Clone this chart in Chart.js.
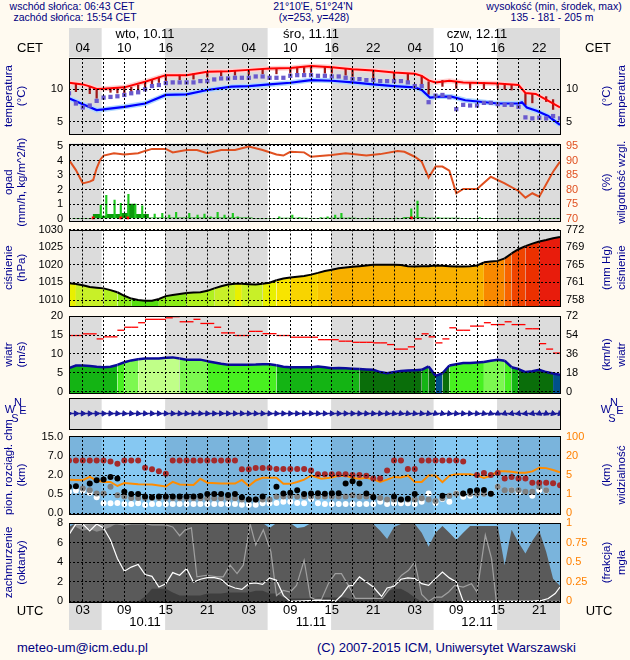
<!DOCTYPE html>
<html lang="pl"><head><meta charset="utf-8"><title>meteogram</title>
<script src="https://cdn.jsdelivr.net/npm/chart.js@4.4.1/dist/chart.umd.min.js"></script>
<style>
html,body{margin:0;padding:0;background:#fffaf0;}
#wrap{position:relative;width:630px;height:660px;overflow:hidden;font-family:"Liberation Sans",Arial,sans-serif;color:#000080;}
#wrap canvas{position:absolute;left:0;top:0;}
.tx{position:absolute;white-space:nowrap;line-height:1;}
</style></head><body>
<div id="wrap">
<div class="tx" style="left:0;width:144px;text-align:center;top:1px;font-size:10.5px">wschód słońca: 06:43 CET</div>
<div class="tx" style="left:0;width:150px;text-align:center;top:12px;font-size:10.5px">zachód słońca: 15:54 CET</div>
<div class="tx" style="left:163px;width:300px;text-align:center;top:1px;font-size:10.5px">21°10'E, 51°24'N</div>
<div class="tx" style="left:164px;width:300px;text-align:center;top:12px;font-size:10.5px">(x=253, y=428)</div>
<div class="tx" style="left:454px;width:200px;text-align:center;top:1px;font-size:10.5px">wysokość (min, środek, max)</div>
<div class="tx" style="left:452px;width:200px;text-align:center;top:12px;font-size:10.5px">135 - 181 - 205 m</div>
<div class="tx" style="left:17px;top:641px;font-size:13px">meteo-um@icm.edu.pl</div>
<div class="tx" style="left:317px;top:641px;font-size:13px">(C) 2007-2015 ICM, Uniwersytet Warszawski</div>
</div>
<script>
// ================= DATA =================
// time axis (hours since 01 UTC 10.11)
const gridHours = [2,5,8,11,14,17,20,23,26,29,32,35,38,41,44,47,50,53,56,59,62,65,68];
const labelHours = [2,8,14,20,26,32,38,44,50,56,62,68];
const cetLabels = ['04','10','16','22','04','10','16','22','04','10','16','22'];
const utcLabels = ['03','09','15','21','03','09','15','21','03','09','15','21'];
const dayHours = [11,35,59];
const cetDays = ['wto, 10.11','śro, 11.11','czw, 12.11'];
const utcDays = ['10.11','11.11','12.11'];
const nightStart = [0, 13.9, 37.9, 61.9];
const nightEnd = [4.72, 28.72, 52.72, 71];
const hours = Array.from({length:72}, (_, i) => i);

// temperature
const tempHours = [0,2,3,4,5,8,11,14,17,20,23,26,29,32,35,38,41,44,47,50,51,52,53,55,57,62,65,66,67.5,69,71];
const tempValues = [10.95,10.7,10.4,10.0,10.05,10.25,11.1,12.1,12.1,12.6,12.7,12.9,13.1,13.2,13.5,13.3,13.0,12.8,12.5,12.3,12.0,11.3,11.0,11.25,11.0,10.85,10.6,9.4,9.25,8.4,7.2];
const dewHours = [0,2,4,5,8,11,14,17,20,23.5,26,29,32,35,38,41,44,47,50,51,52.2,53.7,55.3,57.3,62,65,65.5,66.2,67.6,69.3,71];
const dewValues = [8.6,7.7,6.8,6.9,7.3,7.8,9.1,9.2,9.85,10.35,10.45,10.7,10.95,11.35,11.25,11.0,10.7,10.45,10.25,9.85,8.7,8.85,8.85,8.3,7.8,7.8,8.0,7.2,6.7,5.9,4.55];
const feelValues = [9.35,7.8,7.2,7.5,8.2,8.7,8.8,8.9,9.1,9.35,9.5,9.95,10.45,10.6,10.9,11.0,11.0,11.0,11.0,11.2,11.2,11.45,11.6,11.6,11.7,11.7,11.7,11.9,11.9,11.7,11.7,11.7,12.0,12.1,12.1,12.1,
  12.0,12.0,11.9,11.9,11.7,11.5,11.5,11.35,11.35,11.2,11.2,11.2,11.2,11.0,10.45,10.45,8.0,9.0,9.1,8.75,6.95,7.6,7.5,7.5,7.9,7.9,7.7,7.6,7.6,7.3,5.7,5.55,5.65,5.55,5.9,5.55];
const spreadHours = [1,3,4,6,7,8,9,10,11,12,13,14,16,18,20,22,24,26,28,30,32,33,34,35,37,38,40,41,44,47,49,51,52,54,56,58,60,62,63,64,66,67,69,70];
const spreadTop = [10.8,10.4,10.0,10.1,10.1,10.25,10.3,10.6,11.1,11.4,11.8,12.1,12.1,12.3,12.6,12.7,12.8,12.9,13.0,13.1,13.2,13.3,13.3,13.5,13.4,13.3,13.0,12.9,12.8,12.5,12.3,12.0,11.1,11.3,11.1,11.0,11.0,10.85,10.85,10.7,9.3,9.3,8.85,8.4];
const spreadBottom = [9.6,9.3,8.6,9.5,9.4,8.9,9.3,9.6,10.2,10.6,11.0,11.2,11.4,11.5,11.8,12.0,12.1,12.2,12.3,12.3,12.4,12.4,12.5,12.5,12.4,12.4,12.1,11.9,11.7,11.4,11.2,10.6,9.2,10.4,10.1,10.1,10.0,10.1,9.95,9.85,7.6,7.9,8.1,6.9];

// precipitation & humidity
const precipMean = [0,0,0,0.29,0.17,0.29,0.29,0.36,1.0,0.29,0.29,
  0.05,0.05,0.05,0.05,0.05,0.05,0.05,0.05,0.05,0.05,0.05,0.05,0.05,0.05,0.05,
  0,0,0,0,0.03,0.03,0.03,0.03,0,0,0.03,0.03,0.03,0.03,0.03,
  0,0,0,0,0,0,0,0.06,0.06,0.06,0.02,0.02,0.02,0.02,0.02,
  0,0,0,0,0,0,0,0,0,0,0,0,0,0,0,0];
const precipMaxHours = [4.7,5.5,6.7,7.6,8.7,9.7,10.7,12.5,13.6,14.6,15.6,17.5,18.7,19.7,20.6,21.6,22.6,23.8,24.5,30.5,32.4,33.4,36.5,37.5,38.6,39.5,40.6,43.4,47.5,48.5,49.6,50.5,53.5,59.5];
const precipMaxValues = [0.93,1.6,1.28,1.05,1.67,1.0,0.88,0.31,0.36,0.24,0.43,0.36,0.24,0.31,0.12,0.43,0.24,0.36,0.12,0.12,0.24,0.06,0.06,0.12,0.24,0.36,0.03,0.03,0.03,0.06,0.66,1.2,0.06,0.06];
const precipRedHours = [3.5,7.5,8.5,49.5];
const humHours = [0,1,1.5,2,3,3.5,4,4.5,5,6.5,8,10,11,12,14,15,17,18.5,20,22,24,26,28,30,31,32,34,35,38,40,43,45,47.5,48.5,50,51,52,53,54,55,56,57,59,61,63,65,66,67,68,70,71];
const humValues = [90.2,86.7,84.4,82.1,82.7,83.3,87.3,90.2,91.7,92.5,92.1,92.5,93.3,94.0,94.0,92.8,93.6,93.6,92.5,93.6,93.6,94.8,93.6,92.1,91.7,93.0,92.8,91.3,91.9,92.5,91.7,92.2,93.3,93.0,91.3,89.6,84.1,87.9,87.9,86.5,78.7,80.2,80.2,84.4,82.1,79.5,77.2,78.7,77.5,86.1,89.6];

// pressure (hPa), hourly
const pressure = [1014.75,1014.55,1014.2,1013.7,1013.5,1013.3,1012.8,1012.2,1011.2,1010.4,1010.0,1009.8,
  1009.8,1010.3,1011.1,1011.4,1011.7,1012.0,1012.1,1012.2,1012.6,1013.3,1013.9,1014.4,
  1014.6,1014.6,1014.5,1014.4,1014.6,1014.9,1015.6,1016.1,1016.4,1016.6,1016.8,1017.2,
  1017.7,1018.2,1018.6,1019.0,1019.2,1019.4,1019.6,1019.8,1020.0,1020.0,1020.0,1020.0,
  1019.9,1019.6,1019.5,1019.6,1019.6,1019.8,1019.7,1019.6,1019.5,1019.5,1019.6,1019.8,
  1020.7,1020.9,1021.1,1021.8,1023.2,1024.4,1025.3,1026.0,1026.6,1027.0,1027.5,1027.9];
const pressTicks = [1010,1015,1020,1025,1030];
const pressLabels = ['1010','1015','1020','1025','1030'];
const mmHgLabels = ['758','761','765','769','772'];

// wind (m/s), hourly
const windSpeed = [6.25,6.95,6.95,6.8,6.6,6.5,6.6,7.1,7.8,8.3,8.6,8.8,
  8.8,8.8,9.0,9.1,8.8,8.5,8.5,8.5,8.1,7.75,7.4,7.15,
  7.15,7.15,7.15,7.2,7.3,7.3,7.0,6.6,6.5,6.5,6.5,6.5,
  6.7,6.5,6.25,6.3,6.2,6.1,6.0,5.9,5.8,5.2,4.9,5.2,
  5.5,5.6,5.7,5.8,6.7,4.2,4.9,6.95,7.3,7.6,7.6,7.75,
  7.9,8.2,8.5,8.2,6.5,6.0,5.2,5.4,5.8,5.2,4.8,4.5];
const windGust = [14.9,14.9,15.35,15.35,14.0,14.55,14.55,16.3,17.1,17.1,18.3,19.2,
  19.2,19.2,19.6,19.9,18.55,18.55,19.2,18.1,18.1,17.1,15.6,15.6,
  14.9,14.9,16.0,16.0,15.4,15.4,14.9,14.9,14.45,14.45,14.45,14.45,
  13.8,13.8,13.8,13.4,13.4,13.1,13.1,13.1,12.95,12.95,12.5,11.3,
  11.3,11.9,14.0,15.35,14.55,12.95,14.0,16.95,16.3,16.3,17.4,17.4,
  18.3,17.8,17.8,18.55,17.8,17.8,16.7,16.7,12.75,11.3,10.25,10.25];
const windTicks = [0,5,10,15,20];
const windLabels = ['0','5','10','15','20'];
const windKmhLabels = ['0','18','36','54','72'];
const windDir = [268,270,272,270,268,270,272,274,275,275,276,276,
  275,274,274,275,276,276,275,274,273,272,272,273,
  274,275,276,276,275,274,273,272,272,273,274,275,
  276,275,274,273,272,272,273,274,275,276,278,280,
  282,282,280,278,282,290,285,280,278,276,276,278,
  285,292,300,308,315,318,320,315,305,295,288,285];

// cloud base / visibility (km)
const baseKnots = [0,0.5,2,7,15];
const baseLabels = ['0.0','0.5','2.0','7.0','15.0'];
const visKnots = [0,1,5,20,100];
const visLabels = ['0','1','5','20','100'];
const highBaseKm = [5.8,5.8,5.8,5.8,5.8,5.8,5.5,4.95,5.8,5.8,5.8,3.9,3.5,2.95,2.35,5.8,5.8,5.8,5.8,5.8,5.8,5.8,5.8,5.8,5.8,3.5,3.5,3.8,3.8,3.8,3.55,3.55,3.55,3.55,3.55,3.2,
  2.2,2.2,2.2,2.2,2.2,2.0,2.0,1.94,1.72,1.72,3.2,5.8,5.8,3.55,3.55,5.8,5.8,5.8,5.8,5.8,5.8,5.5,null,2.0,2.5,2.0,2.5,1.72,1.85,1.72,1.72,1.4,1.4,1.4,1.35,1.2];
const lowBaseHours = [0,1,3,4,5,6,7,8,9,10,11,12,13,14,15,16,17,18,19,20,21,22,23,24,25,26,27,28,30,31,32,33,34,35,36,37,38,39,40,41,42,43,44,47,48,49,50,54,57,58,59,60,61];
const lowBaseKm = [1.07,1.12,1.33,1.58,1.64,1.85,1.72,0.68,0.5,0.5,0.44,0.42,0.44,0.44,0.44,0.44,0.44,0.44,0.45,0.5,0.5,0.5,0.48,0.5,0.42,0.36,0.36,0.44,1.07,0.55,0.6,0.8,0.5,0.55,0.57,0.52,0.57,0.57,1.33,1.5,1.33,0.55,0.42,0.44,0.36,0.38,0.5,0.46,0.55,0.74,0.8,0.82,0.52];
const midBaseKm = [null,null,0.95,0.8,0.55,0.55,1.07,0.47,0.44,0.4,0.4,0.4,0.4,0.4,0.4,0.39,0.39,0.39,0.39,0.39,0.39,0.39,0.39,0.39,0.39,0.36,0.36,0.36,0.36,0.36,0.44,0.44,0.44,0.44,0.44,0.44,
  0.44,0.44,0.44,0.44,0.44,0.47,0.44,0.44,0.44,0.4,0.36,0.36,0.36,0.36,0.36,0.39,0.36,0.32,0.39,0.46,0.52,0.52,0.52,0.52,0.52,0.52,1.07,0.8,0.8,0.8,0.69,0.69,1.07,0.8,null,null];
const topBaseKm = [0.69,0.78,0.78,0.6,0.42,0.26,0.26,0.27,0.24,0.24,0.26,0.22,0.24,0.24,0.24,0.24,0.24,0.24,0.24,0.24,0.24,0.24,0.24,0.24,0.24,0.22,0.22,0.22,0.26,0.26,0.27,0.3,0.3,0.27,0.26,0.37,
  0.26,0.24,0.24,0.24,0.24,0.24,0.24,0.24,0.24,0.3,0.24,0.26,0.26,0.26,0.24,0.3,0.55,0.27,0.37,0.3,0.55,0.43,0.46,0.55,0.55,0.55,1.07,null,0.8,0.69,null,0.46,0.8,0.78,null,null];
const visHours = [0,2,3,4,5,6,7,8,10,12,14,15,16,18,19,20,22,24,25,26,27,28,30,31,32,33,34,35,36.5,38,39,40,41,42,43,44,45,46,47,48,49,50,51,52,53,54,55,56,58,59,60,61,62,63,64,65,66,67,68,69,70,71];
const visKm = [4.0,3.9,4.6,3.85,3.55,3.55,2.7,3.3,3.05,3.0,2.6,3.55,3.0,2.9,4.2,3.4,3.2,3.2,3.96,2.7,3.85,4.4,4.4,3.15,3.15,3.55,4.04,4.9,4.24,4.5,4.85,4.85,4.4,4.24,4.4,4.1,3.55,4.04,4.6,4.5,4.9,3.55,3.55,4.9,4.9,3.5,4.85,5.6,5.6,4.9,4.4,4.85,7.85,7.85,7.55,6.8,6.8,7.85,10.7,10.4,8.9,7.1];

// cloud cover (oktas)
const totalCover = [7.6,8,8,8,8,8,8,8,8,8,8,8,8,8,8,8,8,8,8,8,8,8,8,8,8,8,8,8,8,7.5,8,8,8,7.5,7.6,8,
  8,8,8,8,8,7.9,7.9,7.9,7.9,7.2,6.36,7.6,7.9,7.9,7.9,7.0,5.57,7.0,7.7,7.0,6.26,7.0,7.7,7.7,7.7,7.7,7.7,3.7,7.3,6.0,4.9,6.2,7.2,5.06,2.3,1.6];
const highCoverHours = [0.5,1,2,3,4,5,6,7];
const highCoverValues = [8,7.6,7.2,7.4,7.1,7.3,7.6,8];
const lowCover = [0,0,0,0,0,0,0,0,0,0,0,0.5,1.3,1.3,1.3,0.9,0.6,0.6,0.6,0.6,0.8,0.8,0.8,0.9,0.9,0.9,0.9,1.1,1.1,0.8,0.8,0.4,0.3,0.3,0.3,0.3,
  0.4,0.4,0.4,0.4,0.4,0.2,0.2,0.2,0.2,0.6,1.0,1.3,1.3,0.9,0.4,0,0,0,0,0,0,0,0,0,0,0,0,0,0,0,0,0,0,0,0,0];
const whiteLineHours = [0,1,2,3,4,5,6,7,8,9,10,11,12,13,14,15,16,17,18,19,20,21,22,23,24,25,26,27,28,29,30,31,32,35.5,38,38.5,39.4,40.4,41,42,43,44,45.2,46,47,48,49,50,51,52,53,54,55,56,57,67,68.4,69.3,70.3,71];
const whiteLineValues = [6.8,7.9,7.9,7.2,7.9,7.5,6.26,4.38,3.08,3.5,3.76,2.74,2.56,1.47,1.81,2.94,2.67,3.35,1.98,2.26,2.43,2.43,2.26,1.64,1.37,1.23,1.81,1.88,1.74,2.4,2.16,0.62,0,0.1,0.1,0,0.6,1.57,1.64,2.5,1.98,1.47,0.5,1.37,1.54,2.26,2.4,2.33,1.81,1.64,2.33,3.0,2.4,1.98,0,0,0.1,0.3,0.8,1.47];
const grayLineHours = [0,1,2,3,4,5,6,7,8,9,10,11,12,13,14,15,16,16.8,17.7,18.5,19.9,21.4,22.3,23.3,24.3,25.2,26.2,27,28.1,29.2,30,31,32,32.9,34,34.9,35.6,36.5,37.5,38.5,39.4,40.4,41.4,43.2,45.3,46.2,47.1,48.1,49.1,50,51,52,52.9,53.9,54.9,55.8,57,58.2,59,60.2,61.1,61.8,71];
const grayLineValues = [7.0,7.9,7.8,7.9,8,8,7.9,7.9,7.8,7.9,7.9,7.9,7.8,7.8,7.8,7.6,6.7,7.3,7.5,2.5,2.67,2.5,2.5,3.7,2.84,3.7,7.9,5.74,7.3,5.06,0.6,1.13,0.96,1.64,4.2,0.44,0.2,0.2,1.81,2.84,2.84,1.64,0.3,0.3,0.3,1.13,1.81,2.67,3.18,4.03,0.7,0,0.44,0.44,0.96,1.64,1.47,1.81,0.96,6.77,4.38,0,0];
const coverTicks = [0,2,4,6,8];
const coverLabels = ['0','2','4','6','8'];
const fogLabels = ['0','0.25','0.5','0.75','1'];

// ================= STYLE / HELPERS =================
const FONT = '"Liberation Sans", Arial, sans-serif';
const NAVY = '#000090';
Chart.defaults.font.family = FONT;
Chart.defaults.font.size = 11;
Chart.defaults.color = '#000';

const pressStops = [1010.5,1012,1013.3,1014.6,1015.5,1016.5,1017.5,1018.5,1020.3,1021.5,1023.5,1025.5,1026.8];
const pressColors = ['#58e010','#8cea18','#b0f020','#c8f028','#e8f000','#f8e400','#f8d400','#f8c400','#f8b000','#f88800','#f86400','#f04400','#ec3000','#e81c0c'];
const windStops = [5,6,7,8,8.7];
const windColors = ['#00508a','#0a6e0a','#14b414','#48f020','#7cf850','#c0ff88'];
function pick(v, stops, colors){ let i = 0; while (i < stops.length && v >= stops[i]) i++; return colors[i]; }
function rowOf(v, knots){
  if (v == null) return null;
  for (let i = 1; i < knots.length; i++) if (v <= knots[i]) return (i-1) + (v-knots[i-1])/(knots[i]-knots[i-1]);
  return knots.length - 1;
}
const pts = (xs, ys) => xs.map((x, i) => ({x, y: ys[i]}));
const LABEL_BOX = { xCET: ['top', 20], xDay: ['top', 20], xUTC: ['bottom', 645], xDate: ['bottom', 645] };

const panel = {
  id: 'panel',
  afterLayout(chart) {
    Object.values(chart.scales).forEach(s => {
      const lb = LABEL_BOX[s.id];
      if (lb) s[lb[0]] = lb[1];
    });
  },
  beforeDraw(chart, _a, o) {
    const {ctx, chartArea: a} = chart; const xs = chart.scales.x;
    ctx.save();
    const bands = (y0, y1, day, night) => {
      ctx.fillStyle = day; ctx.fillRect(a.left, y0, a.right - a.left, y1 - y0);
      ctx.fillStyle = night;
      nightStart.forEach((s, i) => { const x0 = xs.getPixelForValue(s), x1 = xs.getPixelForValue(nightEnd[i]); ctx.fillRect(x0, y0, x1 - x0, y1 - y0); });
    };
    bands(a.top, a.bottom, o.day, o.night);
    if (o.band) bands(o.band[0], o.band[1], '#ffffff', '#dcdcdc');
    ctx.restore();
  },
  afterDraw(chart, _a, o) {
    const {ctx, chartArea: a} = chart;
    ctx.save();
    ctx.strokeStyle = '#000'; ctx.lineWidth = 1;
    const l = Math.round(a.left) + 0.5, t = Math.round(a.top) + 0.5, r = Math.round(a.right) + 0.5, b = Math.round(a.bottom) + 0.5;
    ctx.strokeRect(l, t, r - l, b - t);
    (o.titles || []).forEach(tt => {
      ctx.save();
      ctx.translate(tt.x, tt.y != null ? tt.y : (a.top + a.bottom) / 2);
      ctx.rotate(-Math.PI / 2);
      ctx.font = (tt.size || 11.5) + 'px ' + FONT;
      ctx.fillStyle = tt.color || NAVY; ctx.textAlign = 'center'; ctx.textBaseline = 'middle';
      ctx.fillText(tt.text, 0, 0);
      ctx.restore();
    });
    (o.texts || []).forEach(tt => {
      ctx.font = (tt.size || 13) + 'px ' + FONT;
      ctx.fillStyle = tt.color || '#000'; ctx.textAlign = 'center'; ctx.textBaseline = 'middle';
      ctx.fillText(tt.text, tt.x, tt.y);
    });
    ctx.restore();
  }
};

function gridX(show) {
  return { type: 'linear', min: 0, max: 71, position: 'bottom', offset: false,
    ticks: { display: false },
    grid: { display: show !== false, offset: false, color: '#000', lineWidth: 1, drawTicks: false, z: 1 },
    border: { display: false, dash: [2, 2] },
    afterBuildTicks: sc => { sc.ticks = gridHours.map(v => ({value: v})); },
    afterFit: sc => { sc.height = 0; } };
}
function labelX(pos, vals, labels, pad) {
  return { type: 'linear', min: 0, max: 71, position: pos, offset: false,
    grid: { display: false, offset: false, drawTicks: false }, border: { display: false },
    ticks: { padding: pad, font: { size: 13 }, color: '#000', autoSkip: false, maxRotation: 0, callback: (v, i) => labels[i] },
    afterBuildTicks: sc => { sc.ticks = vals.map(v => ({value: v})); },
    afterFit: sc => { sc.height = 0; } };
}
function yScale(pos, min, max, vals, labels, color, grid) {
  return { type: 'linear', position: pos, min, max,
    ticks: { display: !!labels, color: color || '#000', padding: 6, font: { size: 11 }, autoSkip: false, callback: (v, i) => labels ? labels[i] : '' },
    grid: grid ? { color: '#000', lineWidth: 1, drawTicks: false, z: 1 } : { display: false, drawTicks: false },
    border: { display: false, dash: [2, 2] },
    afterBuildTicks: sc => { sc.ticks = vals.map(v => ({value: v})); },
    afterFit: sc => { sc.width = pos === 'left' ? 69 : 70; } };
}
function options(top, bottom, scales, panelOpts, xShow) {
  return { animation: false, responsive: false, devicePixelRatio: 1, events: [],
    layout: { padding: { top, bottom: 660 - bottom, left: 0, right: 0 } },
    plugins: { legend: { display: false }, tooltip: { enabled: false }, panel: panelOpts },
    scales: Object.assign({ x: gridX(xShow) }, scales) };
}
const wrap = document.getElementById('wrap');
function mk(cfg) {
  const c = document.createElement('canvas');
  c.width = 630; c.height = 660; c.style.width = '630px'; c.style.height = '660px';
  wrap.appendChild(c);
  cfg.plugins = [panel];
  return new Chart(c, cfg);
}
const WHITE = '#ffffff', GRAY = '#dcdcdc';
const titleL = (a, b) => [{text: a, x: 9}, {text: b, x: 22}];
const titleR = (a, b, c) => [{text: a, x: 607, color: c}, {text: b, x: 622, color: c}];

// ================= CHARTS =================
// 1. temperature
mk({ type: 'line', data: { datasets: [
  { type: 'scatter', data: pts(hours, feelValues), pointStyle: 'rect', pointRadius: 3, pointBackgroundColor: '#6a5acd', pointBorderWidth: 0, order: 0 },
  { data: pts(tempHours, tempValues), borderColor: '#ff0000', borderWidth: 2, pointRadius: 0, order: 1 },
  { data: pts(dewHours, dewValues), borderColor: '#0000ff', borderWidth: 2.2, pointRadius: 0, order: 2 },
  { type: 'bar', data: spreadHours.map((h, i) => ({x: h, y: [spreadBottom[i], spreadTop[i]]})), backgroundColor: '#a01818', barThickness: 1.6, order: 3 },
  { data: pts(tempHours, tempValues), borderColor: '#ffd0d0', borderWidth: 5, pointRadius: 0, order: 5 },
  { data: pts(dewHours, dewValues), borderColor: '#b0d8ff', borderWidth: 5, pointRadius: 0, order: 6 }
]}, options: options(58, 134, {
  y: yScale('left', 3.18, 14.7, [5, 10], ['5', '10'], '#000', true),
  yR: yScale('right', 3.18, 14.7, [5, 10], ['5', '10'], '#000', false),
  xCET: labelX('top', labelHours, cetLabels, 2),
  xDay: labelX('top', dayHours, cetDays, 16)
}, { day: WHITE, night: GRAY, band: [28, 57.5],
  titles: titleL('temperatura', '(°C)').concat(titleR('(°C)', 'temperatura')),
  texts: [{text: 'CET', x: 30, y: 48}, {text: 'CET', x: 598, y: 48}] }) });

// 2. precipitation & humidity
mk({ type: 'line', data: { datasets: [
  { data: pts(humHours, humValues), yAxisID: 'yR', borderColor: '#e05020', borderWidth: 2, pointRadius: 0, order: 0 },
  { type: 'scatter', data: precipRedHours.map(h => ({x: h, y: 0.04})), pointStyle: 'rect', pointRadius: 2, pointBackgroundColor: '#ff0000', pointBorderWidth: 0, order: 1 },
  { type: 'bar', data: pts(precipMaxHours, precipMaxValues), backgroundColor: '#1ec81e', barThickness: 1.5, order: 2 },
  { type: 'bar', data: hours.map((h, i) => ({x: h + 0.5, y: precipMean[i]})), backgroundColor: '#0a9a0a', barThickness: 6.9, order: 3 }
]}, options: options(143.5, 221, {
  y: yScale('left', -0.17, 5.17, [0, 1, 2, 3, 4, 5], ['0', '1', '2', '3', '4', '5'], '#000', true),
  yR: yScale('right', 69.14, 95.86, [70, 75, 80, 85, 90, 95], ['70', '75', '80', '85', '90', '95'], '#e05020', false)
}, { day: WHITE, night: GRAY,
  titles: titleL('opad', '(mm/h, kg/m^2/h)').concat(titleR('(%)', 'wilgotność wzgl.')) }) });

// 3. pressure
mk({ type: 'line', data: { datasets: [
  { data: pts(hours, pressure), borderColor: '#000', borderWidth: 2, pointRadius: 0, fill: 'start',
    backgroundColor: '#f8b000',
    segment: { backgroundColor: c => pick((c.p0.parsed.y + c.p1.parsed.y) / 2, pressStops, pressColors) } }
]}, options: options(229.5, 306, {
  y: yScale('left', 1008.3, 1030, pressTicks, pressLabels, '#000', true),
  yR: yScale('right', 1008.3, 1030, pressTicks, mmHgLabels, '#000', false)
}, { day: WHITE, night: GRAY,
  titles: titleL('ciśnienie', '(hPa)').concat(titleR('(mm Hg)', 'ciśnienie')) }) });

// 4. wind speed & gusts
mk({ type: 'line', data: { datasets: [
  { type: 'scatter', data: hours.map((h, i) => ({x: h + 0.5, y: windGust[i]})), pointStyle: 'line', pointRadius: 3.5, borderColor: '#ff0000', pointBorderColor: '#ff0000', pointBorderWidth: 1.3, order: 0 },
  { data: pts(hours, windSpeed), borderColor: '#0a0a9a', borderWidth: 2.5, pointRadius: 0, fill: 'start',
    backgroundColor: '#14b414',
    segment: { backgroundColor: c => pick((c.p0.parsed.y + c.p1.parsed.y) / 2, windStops, windColors) }, order: 1 }
]}, options: options(316, 393, {
  y: yScale('left', -0.35, 20.08, windTicks, windLabels, '#000', true),
  yR: yScale('right', -0.35, 20.08, windTicks, windKmhLabels, '#000', false)
}, { day: WHITE, night: GRAY,
  titles: titleL('wiatr', '(m/s)').concat(titleR('(km/h)', 'wiatr')) }) });

// 5. wind direction
mk({ type: 'line', data: { datasets: [
  { data: hours.map(h => ({x: h, y: 0})), borderColor: '#1a1a9a', borderWidth: 1.5,
    pointStyle: 'triangle', pointRadius: 3, pointBackgroundColor: '#1a1a9a', pointBorderColor: '#1a1a9a', pointBorderWidth: 1,
    pointRotation: c => (windDir[c.dataIndex] + 180) % 360 }
]}, options: options(398, 429, {
  y: yScale('left', -1, 1, [], null, '#000', false),
  yR: yScale('right', -1, 1, [], null, '#000', false)
}, { day: WHITE, night: GRAY,
  texts: [
    {text: 'N', x: 18, y: 403, size: 11, color: NAVY}, {text: 'W', x: 10, y: 410, size: 11, color: NAVY},
    {text: 'E', x: 23, y: 411, size: 11, color: NAVY}, {text: 'S', x: 15, y: 419, size: 11, color: NAVY},
    {text: 'N', x: 614, y: 403, size: 11, color: NAVY}, {text: 'W', x: 606, y: 410, size: 11, color: NAVY},
    {text: 'E', x: 620, y: 411, size: 11, color: NAVY}, {text: 'S', x: 612, y: 419, size: 11, color: NAVY}
  ] }, false) });

// 6. cloud base & visibility
mk({ type: 'line', data: { datasets: [
  { type: 'scatter', data: hours.map((h, i) => ({x: h, y: rowOf(highBaseKm[i], baseKnots)})), pointRadius: 3, pointBackgroundColor: '#a52a2a', pointBorderWidth: 0, order: 0 },
  { type: 'scatter', data: lowBaseHours.map((h, i) => ({x: h, y: rowOf(lowBaseKm[i], baseKnots)})), pointRadius: 3, pointBackgroundColor: '#000000', pointBorderWidth: 0, order: 1 },
  { data: visHours.map((h, i) => ({x: h, y: rowOf(visKm[i], visKnots)})), borderColor: '#ff8c00', borderWidth: 2, pointRadius: 0, order: 2 },
  { type: 'scatter', data: hours.map((h, i) => ({x: h, y: rowOf(midBaseKm[i], baseKnots)})), pointRadius: 3, pointBackgroundColor: '#808080', pointBorderWidth: 0, order: 3 },
  { type: 'scatter', data: hours.map((h, i) => ({x: h, y: rowOf(topBaseKm[i], baseKnots)})), pointRadius: 3, pointBackgroundColor: '#ffffff', pointBorderWidth: 0, order: 4 }
]}, options: options(436, 514, {
  y: yScale('left', -0.04, 4.04, [0, 1, 2, 3, 4], baseLabels, '#000', true),
  yR: yScale('right', -0.04, 4.04, [0, 1, 2, 3, 4], visLabels, '#ff8000', false)
}, { day: '#86c8f2', night: '#7ab4dc',
  titles: [{text: 'pion. rozciągł. chm', x: 9, y: 467}, {text: '(km)', x: 22}].concat(titleR('(km)', 'widzialność')) }) });

// 7. cloud cover
mk({ type: 'line', data: { datasets: [
  { data: pts(whiteLineHours, whiteLineValues), borderColor: '#ffffff', borderWidth: 1.2, pointRadius: 0, order: 0 },
  { data: pts(grayLineHours, grayLineValues), borderColor: '#a0a0a0', borderWidth: 1.2, pointRadius: 0, order: 1 },
  { data: pts(hours, lowCover), borderWidth: 0, pointRadius: 0, fill: 'start', backgroundColor: '#3e3e3e', order: 2 },
  { data: pts(highCoverHours, highCoverValues), borderWidth: 0, pointRadius: 0, fill: 'end', backgroundColor: '#8c8c8c', order: 3 },
  { data: pts(hours, totalCover), borderWidth: 0, pointRadius: 0, fill: 'start', backgroundColor: '#5a5a5a', order: 4 }
]}, options: options(523, 602, {
  y: yScale('left', -0.06, 8, coverTicks, coverLabels, '#000', true),
  yR: yScale('right', -0.06, 8, coverTicks, fogLabels, '#ff8000', false),
  xUTC: labelX('bottom', labelHours, utcLabels, 1),
  xDate: labelX('bottom', dayHours, utcDays, 13)
}, { day: '#86c8f2', night: '#7ab4dc', band: [602, 630],
  titles: [{text: 'zachmurzenie', x: 9}, {text: '(oktanty)', x: 22}].concat(titleR('(frakcja)', 'mgła')),
  texts: [{text: 'UTC', x: 30, y: 611}, {text: 'UTC', x: 599, y: 611}] }) });
</script>
</body></html>
